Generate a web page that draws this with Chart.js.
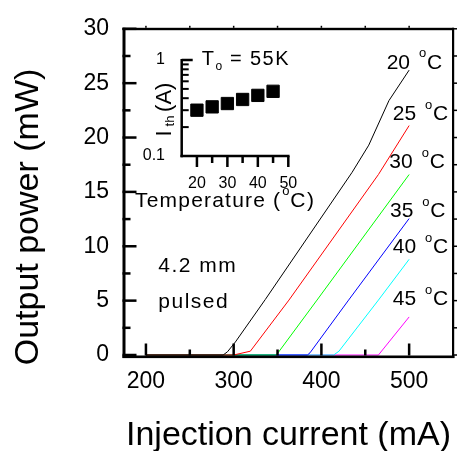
<!DOCTYPE html>
<html>
<head>
<meta charset="utf-8">
<script src="https://cdn.jsdelivr.net/npm/chart.js@4.4.1/dist/chart.umd.min.js"></script>
<style>
  html, body { margin: 0; padding: 0; background: #ffffff; }
  #wrap { position: relative; width: 460px; height: 451px; overflow: hidden; }
  #main { position: absolute; left: 0; top: 0; }
  #inset { position: absolute; left: 100px; top: 30px; }
</style>
</head>
<body>
<div id="wrap">
  <canvas id="main" width="460" height="451"></canvas>
  <canvas id="inset" width="240" height="190"></canvas>
</div>
<script>
// ---------------- data ----------------
const temperatureLabels = ['20', '25', '30', '35', '40', '45'];

const current20 = [200, 288, 293, 302, 336, 435, 454, 477, 500];
const power20   = [0,   0,   0.3, 1.2, 5.1, 16.8, 19.3, 23.4, 26.2];

const current25 = [200, 300, 319,  363,  465,  500];
const power25   = [0,   0,   0.35, 5.05, 16.6, 21.1];

const current30 = [200, 348, 351,  395,  500];
const power30   = [0,   0,   0.25, 5.05, 16.6];

const current35 = [200, 384, 387, 431,  500];
const power35   = [0,   0,   0.2, 5.05, 12.55];

const current40 = [200, 414, 420,  465,  500];
const power40   = [0,   0,   0.35, 5.05, 8.8];

const current45 = [200, 465, 500];
const power45   = [0,   0,   3.5];

const currentTicks = [200, 300, 400, 500];
const powerTicks   = [0, 5, 10, 15, 20, 25, 30];

const insetTemps      = [20, 25, 30, 35, 40, 45];
const insetIth        = [0.30, 0.325, 0.352, 0.388, 0.428, 0.472];
const insetTempTicks  = [20, 30, 40, 50];
const insetIthTicks   = [0.1, 1];

// ---------------- styling ----------------
const FONT = "'Liberation Sans', Arial, Helvetica, sans-serif";
const seriesColors = ['#000000', '#ff0000', '#00ff00', '#0000ff', '#00ffff', '#ff00ff'];
const seriesCurrents = [current20, current25, current30, current35, current40, current45];
const seriesPowers   = [power20, power25, power30, power35, power40, power45];

const toPoints = (xs, ys) => xs.map((x, i) => ({ x: x, y: ys[i] }));

function setSpacing(ctx, s) { if ('letterSpacing' in ctx) ctx.letterSpacing = s; }

// ---------------- main chart decorations ----------------
const mainFrame = {
  id: 'mainFrame',
  afterDraw(chart) {
    const ctx = chart.ctx, a = chart.chartArea, xs = chart.scales.x, ys = chart.scales.y;
    ctx.save();
    ctx.fillStyle = '#000';
    // frame
    ctx.fillRect(a.left - 1.5, a.top - 1, 3, a.bottom - a.top + 4);           // left
    ctx.fillRect(a.left - 1.5, a.bottom + 0.5, a.right - a.left + 3, 2.6);     // bottom
    ctx.fillRect(a.left - 1.5, a.top - 1, a.right - a.left + 2.5, 2.4);        // top
    ctx.fillRect(a.right - 1, a.top - 1, 2.2, a.bottom - a.top + 4);           // right
    // x ticks (inward) major + minor
    currentTicks.forEach((v, i) => {
      const px = xs.getPixelForValue(v);
      ctx.fillRect(px - 1.25, a.bottom + 0.5 - 12, 2.5, 12);
      if (i < currentTicks.length - 1) {
        const pm = xs.getPixelForValue((v + currentTicks[i + 1]) / 2);
        ctx.fillRect(pm - 1.25, a.bottom + 0.5 - 6, 2.5, 6);
      }
    });
    // top small outward ticks
    for (let v = currentTicks[0]; v <= currentTicks[currentTicks.length - 1]; v += 50) {
      const px = xs.getPixelForValue(v);
      ctx.fillRect(px - 0.75, a.top - 3, 1.5, 2);
    }
    // y ticks (inward) major + minor, right small outward
    powerTicks.forEach((v, i) => {
      const py = ys.getPixelForValue(v);
      ctx.fillRect(a.left - 1.5, py - 1.25, 14, 2.5);
      ctx.fillRect(a.right + 1, py - 0.75, 3, 1.5);
      if (i < powerTicks.length - 1) {
        const pm = ys.getPixelForValue((v + powerTicks[i + 1]) / 2);
        ctx.fillRect(a.left - 1.5, pm - 1.25, 8, 2.5);
        ctx.fillRect(a.right + 1, pm - 0.75, 3, 1.5);
      }
    });
    // y axis title
    ctx.save();
    ctx.translate(38, 217);
    ctx.rotate(-Math.PI / 2);
    ctx.font = '34px ' + FONT;
    ctx.textAlign = 'center';
    ctx.textBaseline = 'alphabetic';
    ctx.fillText('Output power (mW)', 0, 0);
    ctx.restore();

    // curve labels with superscript degree mark
    const spots = [[474.4, 26.88], [481.3, 22.14], [477.4, 17.71], [478.2, 13.19], [481.3, 9.89], [481.3, 5.15]];
    ctx.textAlign = 'left';
    ctx.textBaseline = 'middle';
    temperatureLabels.forEach((t, i) => {
      const x0 = xs.getPixelForValue(spots[i][0]);
      const y0 = ys.getPixelForValue(spots[i][1]);
      ctx.font = '21px ' + FONT;
      ctx.fillText(t, x0, y0);
      const w = ctx.measureText(t).width;
      const ox = x0 + w + 9;
      ctx.font = '13px ' + FONT;
      ctx.fillText('o', ox, y0 - 9);
      ctx.font = '21px ' + FONT;
      ctx.fillText('C', ox + 8, y0);
    });

    // note text
    ctx.font = '21px ' + FONT;
    setSpacing(ctx, '1.5px');
    ctx.fillText('4.2 mm', xs.getPixelForValue(214.1), ys.getPixelForValue(8.13));
    ctx.fillText('pulsed', xs.getPixelForValue(214.1), ys.getPixelForValue(4.82));
    setSpacing(ctx, '0px');
    ctx.restore();
  }
};

new Chart(document.getElementById('main'), {
  type: 'scatter',
  data: {
    datasets: seriesCurrents.map((cs, i) => ({
      label: temperatureLabels[i] + ' °C',
      data: toPoints(cs, seriesPowers[i]),
      showLine: true,
      borderColor: seriesColors[i],
      backgroundColor: seriesColors[i],
      borderWidth: 1,
      pointRadius: 0,
      tension: 0,
      clip: 4
    }))
  },
  options: {
    responsive: false,
    animation: false,
    devicePixelRatio: 1,
    layout: { padding: { left: 0, top: 23, right: 7, bottom: 0 } },
    plugins: { legend: { display: false }, tooltip: { enabled: false } },
    scales: {
      x: {
        type: 'linear',
        min: 175, max: 550,
        afterFit(s) { s.height = 96; },
        afterBuildTicks(s) { s.ticks = currentTicks.map(v => ({ value: v })); },
        grid: { display: false, drawTicks: false },
        border: { display: false },
        ticks: { color: '#000', font: { family: FONT, size: 23 }, padding: 13, maxRotation: 0, autoSkip: false },
        title: {
          display: true, text: 'Injection current (mA)', color: '#000',
          font: { family: FONT, size: 34, lineHeight: 1 },
          padding: { top: 0, bottom: -2 }
        }
      },
      y: {
        type: 'linear',
        min: 0, max: 30,
        afterFit(s) { s.width = 124; },
        afterBuildTicks(s) { s.ticks = powerTicks.map(v => ({ value: v })); },
        grid: { display: false, drawTicks: false },
        border: { display: false },
        ticks: { color: '#000', font: { family: FONT, size: 23 }, padding: 15, autoSkip: false }
      }
    }
  },
  plugins: [mainFrame]
});

// ---------------- inset chart ----------------
const insetFrame = {
  id: 'insetFrame',
  afterDraw(chart) {
    const ctx = chart.ctx, a = chart.chartArea, xs = chart.scales.x, ys = chart.scales.y;
    ctx.save();
    ctx.fillStyle = '#000';
    ctx.fillRect(a.left - 1.25, a.top - 1, 2.5, a.bottom - a.top + 2.25);        // left axis
    ctx.fillRect(a.left - 1.25, a.bottom - 1.25, a.right - a.left + 2.5, 2.5);   // bottom axis
    // y ticks
    const p1 = ys.getPixelForValue(1);
    ctx.fillRect(a.left, p1 - 1.25, 11, 2.5);
    for (let k = 2; k <= 9; k++) {
      const py = ys.getPixelForValue(k / 10);
      ctx.fillRect(a.left, py - 1, 7, 2);
    }
    // x ticks (downward)
    insetTempTicks.forEach((v, i) => {
      const px = xs.getPixelForValue(v);
      ctx.fillRect(px - 1.25, a.bottom, 2.5, 11);
      if (i < insetTempTicks.length - 1) {
        const pm = xs.getPixelForValue((v + insetTempTicks[i + 1]) / 2);
        ctx.fillRect(pm - 1.25, a.bottom, 2.5, 7);
      }
    });

    ctx.textAlign = 'left';
    ctx.textBaseline = 'alphabetic';
    // T_o = 55K
    ctx.font = '20px ' + FONT;
    ctx.fillText('T', 101.7, 35);
    ctx.font = '12px ' + FONT;
    ctx.fillText('o', 115.5, 40);
    ctx.font = '20px ' + FONT;
    ctx.fillText('=', 130, 35);
    setSpacing(ctx, '1.5px');
    ctx.fillText('55K', 150, 35);
    setSpacing(ctx, '0px');

    // I_th (A) rotated
    ctx.save();
    ctx.translate(71, 106.4);
    ctx.rotate(-Math.PI / 2);
    ctx.font = '22px ' + FONT;
    ctx.fillText('I', 0, 0);
    ctx.font = '13px ' + FONT;
    ctx.fillText('th', 10, 2.5);
    ctx.font = '22px ' + FONT;
    ctx.fillText('(A)', 24.5, 0);
    ctx.restore();

    // Temperature (°C)
    ctx.font = '21px ' + FONT;
    setSpacing(ctx, '1.2px');
    ctx.fillText('Temperature (', 35, 177.3);
    const wt = ctx.measureText('Temperature (').width;
    setSpacing(ctx, '0px');
    const ox = 35 + wt + 1;
    ctx.font = '13px ' + FONT;
    ctx.fillText('o', ox, 165);
    ctx.font = '21px ' + FONT;
    setSpacing(ctx, '1.5px');
    ctx.fillText('C)', ox + 8, 177.3);
    setSpacing(ctx, '0px');
    ctx.restore();
  }
};

new Chart(document.getElementById('inset'), {
  type: 'scatter',
  data: {
    datasets: [{
      label: 'Ith',
      data: toPoints(insetTemps, insetIth),
      pointStyle: 'rect',
      pointRadius: 8.7,
      pointHoverRadius: 8.7,
      backgroundColor: '#000',
      borderColor: '#000',
      borderWidth: 1,
      showLine: false
    }]
  },
  options: {
    responsive: false,
    animation: false,
    devicePixelRatio: 1,
    layout: { padding: { left: 0, top: 30, right: 51.7, bottom: 0 } },
    plugins: { legend: { display: false }, tooltip: { enabled: false } },
    scales: {
      x: {
        type: 'linear',
        min: 15, max: 50,
        afterFit(s) { s.height = 64; },
        afterBuildTicks(s) { s.ticks = insetTempTicks.map(v => ({ value: v })); },
        grid: { display: false, drawTicks: false },
        border: { display: false },
        ticks: { color: '#000', font: { family: FONT, size: 16 }, padding: 17.7, maxRotation: 0, autoSkip: false }
      },
      y: {
        type: 'logarithmic',
        min: 0.1, max: 1,
        afterFit(s) { s.width = 81.7; },
        afterBuildTicks(s) { s.ticks = insetIthTicks.map(v => ({ value: v })); },
        grid: { display: false, drawTicks: false },
        border: { display: false },
        ticks: {
          color: '#000', font: { family: FONT, size: 16 }, padding: 16.7, autoSkip: false,
          callback: (v) => String(v)
        }
      }
    }
  },
  plugins: [insetFrame]
});
</script>
</body>
</html>
